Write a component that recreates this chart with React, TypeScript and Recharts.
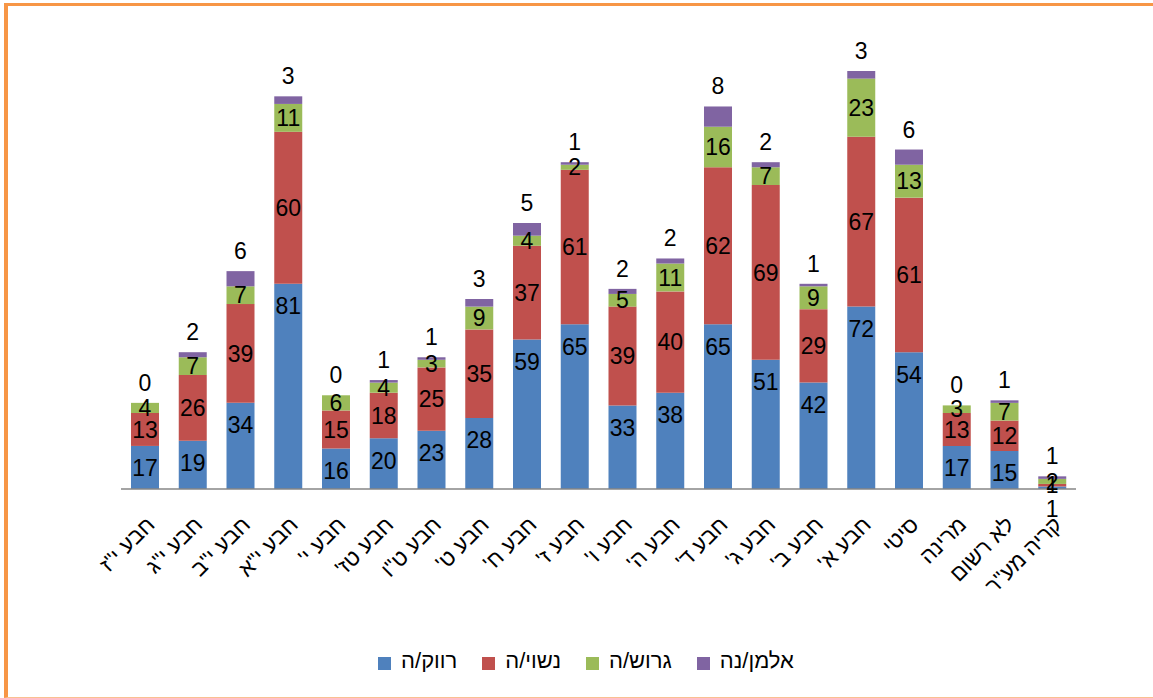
import { Bar, BarChart, LabelList, Legend, XAxis, YAxis } from "recharts";

const categories = [
  'חבע י"ז',
  'חבע י"ג',
  'חבע י"ב',
  'חבע י"א',
  "חבע י'",
  "חבע טז'",
  'חבע ט"ו',
  "חבע ט'",
  "חבע ח'",
  "חבע ז'",
  "חבע ו'",
  "חבע ה'",
  "חבע ד'",
  "חבע ג'",
  "חבע ב'",
  "חבע א'",
  "סיטי",
  "מרינה",
  "לא רשום",
  'קריה מע"ר'
];

const single = [17, 19, 34, 81, 16, 20, 23, 28, 59, 65, 33, 38, 65, 51, 42, 72, 54, 17, 15, 1];
const married = [13, 26, 39, 60, 15, 18, 25, 35, 37, 61, 39, 40, 62, 69, 29, 67, 61, 13, 12, 1];
const divorced = [4, 7, 7, 11, 6, 4, 3, 9, 4, 2, 5, 11, 16, 7, 9, 23, 13, 3, 7, 2];
const widowed = [0, 2, 6, 3, 0, 1, 1, 3, 5, 1, 2, 2, 8, 2, 1, 3, 6, 0, 1, 1];

const seriesOrder = ["single", "married", "divorced", "widowed"];

const data = categories.map((name, i) => ({
  name,
  single: single[i],
  married: married[i],
  divorced: divorced[i],
  widowed: widowed[i]
}));

const font = '"Liberation Sans", "DejaVu Sans", Arial, sans-serif';

export default function App() {
  return (
    <div style={{ position: "absolute", left: 0, top: 0, width: 1153, height: 698, background: "#fff" }}>
      <div
        style={{
          position: "absolute",
          left: 4,
          top: 3,
          width: 1149,
          height: 695,
          boxSizing: "border-box",
          borderLeft: "4px solid #F79646",
          borderTop: "3px solid #F79646",
          borderBottom: "1px solid #FAC090"
        }}
      />
      <div style={{ position: "absolute", left: 0, top: 0 }}>
        <BarChart
          width={1153}
          height={698}
          data={data}
          margin={{ top: 33, right: 77, left: 121, bottom: 24 }}
          style={{ fontFamily: font }}
        >
          <XAxis
            dataKey="name"
            interval={0}
            tickLine={false}
            axisLine={{ stroke: "#868686", strokeWidth: 1.5 }}
            height={159}
            tickMargin={20}
            tickFormatter={(v: string) => v + "\u200F"}
            tick={{ fontSize: 22, fill: "#000", angle: -45, textAnchor: "end" }}
          />
          <YAxis hide domain={[0, 180]} />
          <Legend
            verticalAlign="bottom"
            align="center"
            iconType="square"
            iconSize={13}
            itemSorter={(item: any) => seriesOrder.indexOf(String(item.dataKey))}
            formatter={(value) => (
              <span style={{ color: "#000", fontSize: 22, marginLeft: 6, marginRight: 15 }}>{value}</span>
            )}
          />
          <Bar dataKey="single" name="רווק/ה" stackId="a" fill="#4F81BD" barSize={28} isAnimationActive={false}>
            <LabelList dataKey="single" position="insideTop" offset={14} fill="#000" fontSize={23} />
          </Bar>
          <Bar dataKey="married" name="נשוי/ה" stackId="a" fill="#C0504D" barSize={28} isAnimationActive={false}>
            <LabelList dataKey="married" position="center" fill="#000" fontSize={23} />
          </Bar>
          <Bar dataKey="divorced" name="גרוש/ה" stackId="a" fill="#9BBB59" barSize={28} isAnimationActive={false}>
            <LabelList dataKey="divorced" position="center" fill="#000" fontSize={23} />
          </Bar>
          <Bar
            dataKey="widowed"
            name="אלמן/נה"
            stackId="a"
            fill="#8064A2"
            barSize={28}
            minPointSize={0.001}
            isAnimationActive={false}
          >
            <LabelList dataKey="widowed" position="top" offset={12} fill="#000" fontSize={23} />
          </Bar>
        </BarChart>
      </div>
    </div>
  );
}
